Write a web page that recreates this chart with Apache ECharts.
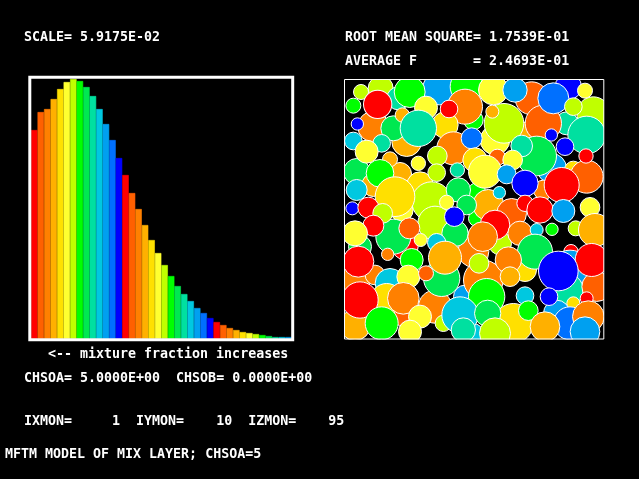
<!DOCTYPE html>
<html>
<head>
<meta charset="utf-8">
<script src="https://cdn.jsdelivr.net/npm/echarts@6/dist/echarts.min.js"></script>
<style>html,body{margin:0;padding:0;background:#000;}#chart{width:639px;height:479px;}</style>
</head>
<body>
<div id="chart"></div>
<script>
// ---- colour cycle (14 colours) ----
const palette = ['#FF0000','#FF6000','#FF8000','#FFB000','#FFE000','#FFFF30','#C0FF00',
                 '#00FF00','#00E850','#00E0A0','#00C8E0','#00A0F0','#0070FF','#0000FF'];

// ---- histogram (40 bins, relative heights, full scale = 780) ----
const histBins = Array.from({length: 40}, (_, i) => 'b' + (i + 1));
const histValues = [626, 680, 689, 719, 749, 770, 779, 773, 755, 728,
                    689, 644, 596, 542, 491, 437, 389, 341, 296, 257,
                    221, 188, 158, 134, 113, 92, 77, 62, 50, 41,
                    32, 26, 20, 17, 14, 11, 8, 5, 5, 5];
const histMax = 780;

// ---- blobs in the right panel: [x, y, radius, colourIndex]  (panel units 15..789 x 28..805) ----
const backCircles = [
 [122,55,33,6],[175,85,30,9],[298,55,45,11],[380,50,45,7],[575,85,45,1],[685,50,35,13],[760,130,45,6],
 [400,150,25,7],[100,170,42,2],[680,160,30,9],[465,210,40,5],[560,185,25,3],[200,215,40,3],[50,305,35,8],
 [180,312,30,3],[635,295,40,11],[700,300,22,4],[610,360,25,2],[100,345,30,3],[410,365,22,7],[185,420,30,5],
 [410,445,20,7],[60,530,30,8],[195,530,35,0],[480,520,30,6],[400,545,42,2],[693,545,17,0],[690,610,65,11],
 [555,600,30,4],[470,593,10,13],[40,630,45,2],[105,615,25,2],[150,640,40,10],[680,660,45,9],[770,650,40,1],
 [140,690,45,4],[375,680,30,11],[700,700,15,4],[285,710,45,2],[520,760,55,4],[650,730,35,11],[690,760,45,12],
 [45,765,42,3],[190,740,25,1],[310,760,20,6],[400,790,25,10]
];
const midCircles = [
 [375,110,48,2],[160,175,33,8],[315,165,35,4],[340,235,45,2],[610,160,50,1],[590,258,55,8],[740,320,45,1],
 [240,345,35,4],[275,395,55,6],[445,405,42,3],[515,430,40,1],[285,460,47,6],[465,465,40,0],[345,490,35,8],
 [160,500,48,8],[540,490,32,2],[305,625,50,8],[430,630,55,2]
];
const frontCircles = [
 [63,66,18,6],[113,103,38,0],[209,66,42,7],[258,113,30,5],[327,117,22,0],[460,60,40,5],[525,60,32,11],
 [640,85,42,12],[735,62,18,5],[40,107,18,7],[700,110,22,6],[187,135,17,3],[52,162,14,13],[235,175,50,9],
 [492,160,55,6],[457,125,15,3],[740,195,52,9],[634,195,14,13],[675,230,22,13],[738,258,17,0],[395,205,27,12],
 [545,228,28,9],[40,213,22,10],[125,220,22,9],[80,245,30,5],[405,270,32,4],[472,262,20,1],[518,270,25,5],
 [292,258,25,6],[150,268,18,3],[235,280,17,5],[120,310,37,7],[290,308,22,6],[352,300,17,9],[435,305,45,5],
 [500,313,24,11],[555,340,35,13],[665,345,48,0],[50,360,27,10],[165,380,55,4],[355,360,32,8],[478,368,14,10],
 [320,397,17,5],[380,405,25,8],[37,415,15,13],[85,413,27,0],[128,430,25,6],[343,440,25,13],[555,400,20,0],
 [600,420,35,0],[670,423,30,11],[750,412,25,5],[208,475,27,1],[100,467,27,0],[45,490,33,5],[428,500,40,2],
 [590,480,15,10],[636,478,14,7],[707,475,18,6],[765,480,45,3],[242,510,15,5],[290,518,23,10],[585,545,48,8],
 [55,575,42,0],[143,553,14,2],[215,570,30,7],[315,563,45,3],[505,570,35,2],[755,570,45,0],[417,580,25,6],
 [655,603,55,13],[205,620,30,5],[258,610,18,1],[510,620,25,3],[60,690,50,0],[190,685,43,2],[440,680,50,7],
 [555,677,22,10],[627,680,22,13],[740,685,15,0],[360,735,50,10],[443,730,35,8],[565,722,25,7],[745,740,43,2],
 [125,760,45,7],[240,740,30,5],[210,785,30,5],[465,790,42,6],[370,780,32,9],[615,770,40,3],[735,785,40,11]
];
const panelX = [15, 789];
const panelY = [28, 805];

// ---- texts ----
const textScale = 'SCALE= 5.9175E-02';
const textRms = 'ROOT MEAN SQUARE= 1.7539E-01';
const textAvg = 'AVERAGE F       = 2.4693E-01';
const textArrow = '<-- mixture fraction increases';
const textChso = 'CHSOA= 5.0000E+00  CHSOB= 0.0000E+00';
const textMon = 'IXMON=     1  IYMON=    10  IZMON=    95';
const textTitle = 'MFTM MODEL OF MIX LAYER; CHSOA=5';

const chart = echarts.init(document.getElementById('chart'), null, {renderer: 'canvas'});
const FONT = 'bold 13.3px "DejaVu Sans Mono", monospace';
function txt(s, x, y) {
  return {type: 'text', x: x, y: y, z: 120,
    style: {text: s, font: FONT, fill: '#fff', textAlign: 'left', textVerticalAlign: 'middle', align: 'left', verticalAlign: 'middle'}};
}
const allCircles = backCircles.concat(midCircles, frontCircles);

chart.setOption({
  backgroundColor: '#000',
  animation: false,
  grid: [
    {left: 31, top: 78.7, width: 260.7, height: 260},
    {left: 345, top: 79.33, width: 258, height: 259}
  ],
  xAxis: [
    {type: 'category', gridIndex: 0, data: histBins, show: false},
    {type: 'value', gridIndex: 1, min: panelX[0], max: panelX[1], show: false}
  ],
  yAxis: [
    {type: 'value', gridIndex: 0, min: 0, max: histMax, show: false},
    {type: 'value', gridIndex: 1, min: panelY[0], max: panelY[1], inverse: true, show: false}
  ],
  series: [
    {
      type: 'bar', xAxisIndex: 0, yAxisIndex: 0,
      barCategoryGap: '0%', barGap: '0%',
      data: histValues.map((v, i) => ({value: v, itemStyle: {color: palette[i % 14], borderColor: palette[i % 14], borderWidth: 0.6}})),
      emphasis: {disabled: true}, silent: true
    },
    {
      type: 'scatter', xAxisIndex: 1, yAxisIndex: 1, clip: false,
      symbol: 'circle',
      symbolSize: v => v[2] * 2 / 3 + 3,
      data: allCircles.map(c => ({value: [c[0], c[1], c[2]], itemStyle: {color: palette[c[3]]}})),
      itemStyle: {borderColor: '#fff', borderWidth: 1, opacity: 1},
      emphasis: {disabled: true}, silent: true, large: false, progressive: 0
    }
  ],
  graphic: [
    // masks around the right panel
    {type: 'rect', z: 100, shape: {x: 300, y: 0, width: 339, height: 79}, style: {fill: '#000'}},
    {type: 'rect', z: 100, shape: {x: 300, y: 0, width: 44, height: 479}, style: {fill: '#000'}},
    {type: 'rect', z: 100, shape: {x: 300, y: 339.5, width: 339, height: 140}, style: {fill: '#000'}},
    {type: 'rect', z: 100, shape: {x: 604, y: 0, width: 35, height: 479}, style: {fill: '#000'}},
    // frames
    {type: 'rect', z: 110, shape: {x: 29.8, y: 77.3, width: 262.9, height: 262.4}, style: {fill: 'none', stroke: '#fff', lineWidth: 3}},
    {type: 'rect', z: 110, shape: {x: 344.5, y: 79.5, width: 259.3, height: 259.5}, style: {fill: 'none', stroke: '#fff', lineWidth: 1}},
    // texts
    txt(textScale, 24, 37.5),
    txt(textRms, 345, 37.5),
    txt(textAvg, 345, 61.5),
    txt(textArrow, 48, 354.5),
    txt(textChso, 24, 378.5),
    txt(textMon, 24, 421.5),
    txt(textTitle, 5, 454.5)
  ]
});
</script>
</body>
</html>
